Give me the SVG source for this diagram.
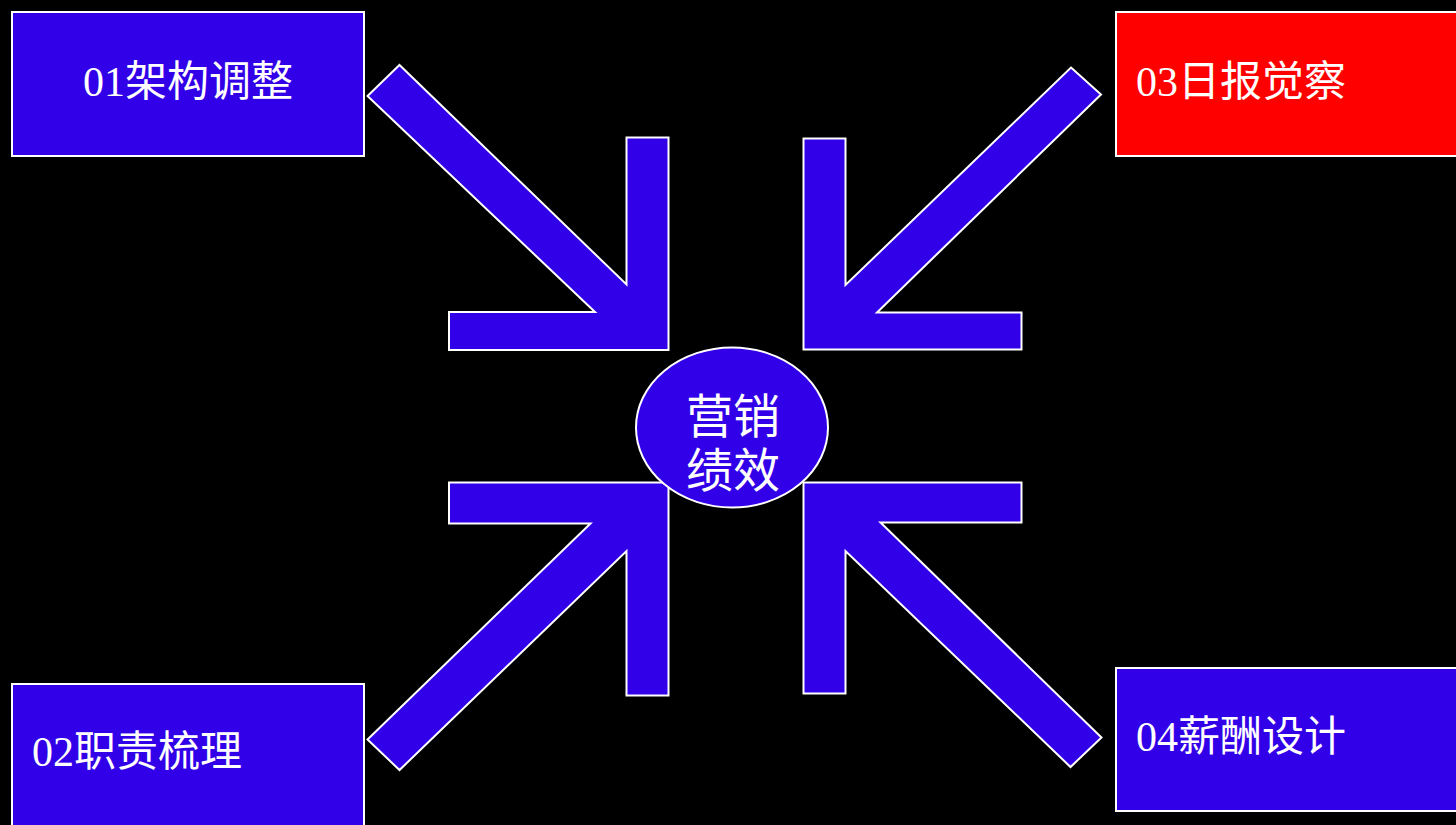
<svg xmlns="http://www.w3.org/2000/svg" width="1456" height="825" viewBox="0 0 1456 825">
<style>
.box{fill:#3200E8;stroke:#FFFFFF;stroke-width:2}
.red{fill:#FF0000}
.arr{fill:#3200E8;stroke:#FFFFFF;stroke-width:2;stroke-linejoin:miter}
.lbl{font-family:"Liberation Serif","Noto Sans CJK SC",serif;font-size:42px;fill:#FFFFFF}
.ctr{font-family:"Liberation Serif","Noto Sans CJK SC",serif;font-size:47px;fill:#FFFFFF;text-anchor:middle}
</style>
<rect x="0" y="0" width="1456" height="825" fill="#000000"/>
<g id="connectors">
<polygon class="arr" points="399.5,65 626.5,284.5 626.5,137.5 668.5,137.5 668.5,350 449,350 449,312 595,312 367.5,96"/>
<polygon class="arr" points="1071,67.5 1101,94.5 877,312.5 1021.5,312.5 1021.5,349.5 803.5,349.5 803.5,138.5 845.5,138.5 845.5,285"/>
<polygon class="arr" points="449,482.5 668.5,482.5 668.5,695.5 626.5,695.5 626.5,551 399.5,770 367.5,739.5 590.5,523.5 449,523.5"/>
<polygon class="arr" points="803.5,482.5 1021.5,482.5 1021.5,522.5 880.5,522.5 1101.5,737.5 1070.5,767 845.5,551 845.5,693.5 803.5,693.5"/>
</g>
<g id="center">
<ellipse cx="732" cy="427.5" rx="96" ry="80" fill="#3200E8" stroke="#FFFFFF" stroke-width="2"/>
<text class="ctr" x="733" y="433">营销</text>
<text class="ctr" x="733" y="487">绩效</text>
</g>
<g id="node01">
<rect class="box" x="12" y="12" width="352" height="144"/>
<text class="lbl" x="188" y="96" text-anchor="middle">01架构调整</text>
</g>
<g id="node02">
<rect class="box" x="12" y="684" width="352" height="160"/>
<text class="lbl" x="32" y="766">02职责梳理</text>
</g>
<g id="node03">
<rect class="box red" x="1116" y="12" width="360" height="144"/>
<text class="lbl" x="1136" y="96">03日报觉察</text>
</g>
<g id="node04">
<rect class="box" x="1116" y="668" width="360" height="143"/>
<text class="lbl" x="1136" y="751">04薪酬设计</text>
</g>
</svg>
